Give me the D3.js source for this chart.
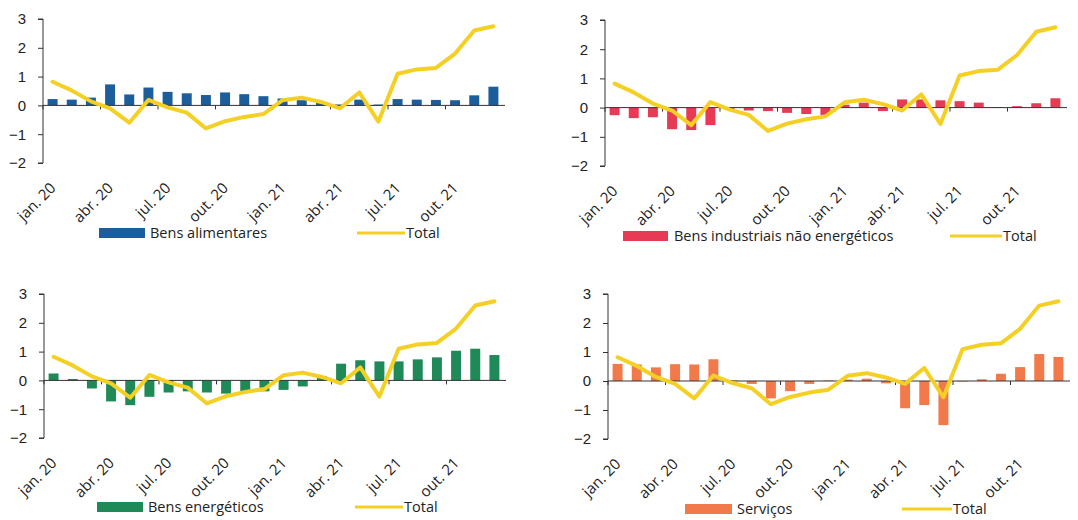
<!DOCTYPE html>
<html>
<head>
<meta charset="utf-8">
<script src="https://cdn.jsdelivr.net/npm/d3@7"></script>
<style>
  html, body { margin: 0; padding: 0; background: #fff; }
  svg { display: block; font-family: "Open Sans", "Noto Sans", sans-serif; }
</style>
</head>
<body>
<svg id="chart" width="1078" height="520"></svg>
<script>
// Monthly contributions (p.p.) to year-on-year HICP inflation, Jan 2020 – Dec 2021
const months = [
  "2020-01","2020-02","2020-03","2020-04","2020-05","2020-06",
  "2020-07","2020-08","2020-09","2020-10","2020-11","2020-12",
  "2021-01","2021-02","2021-03","2021-04","2021-05","2021-06",
  "2021-07","2021-08","2021-09","2021-10","2021-11","2021-12"
];
const tickMonths = ["2020-01","2020-04","2020-07","2020-10","2021-01","2021-04","2021-07","2021-10"];
const tickLabels = ["jan. 20","abr. 20","jul. 20","out. 20","jan. 21","abr. 21","jul. 21","out. 21"];
const yTicks = [-2, -1, 0, 1, 2, 3];

const total = [0.82, 0.52, 0.14, -0.1, -0.6, 0.19, -0.07, -0.25, -0.8, -0.55, -0.4, -0.3,
               0.18, 0.27, 0.12, -0.1, 0.45, -0.56, 1.1, 1.25, 1.3, 1.8, 2.6, 2.75];

const bensAlimentares = [0.22, 0.2, 0.27, 0.73, 0.38, 0.62, 0.47, 0.42, 0.36, 0.45, 0.39, 0.32,
                         0.24, 0.18, 0.12, 0.03, 0.2, 0.03, 0.22, 0.2, 0.19, 0.18, 0.35, 0.65];
const bensIndustriais = [-0.26, -0.36, -0.33, -0.74, -0.77, -0.6, -0.05, -0.1, -0.12, -0.18, -0.22, -0.25,
                         0.1, 0.17, -0.12, 0.28, 0.28, 0.25, 0.22, 0.17, 0.02, 0.05, 0.15, 0.32];
const bensEnergeticos = [0.24, 0.05, -0.28, -0.73, -0.86, -0.57, -0.42, -0.38, -0.42, -0.46, -0.37, -0.38,
                         -0.33, -0.21, 0.15, 0.58, 0.7, 0.66, 0.66, 0.73, 0.8, 1.03, 1.1, 0.88];
const servicos = [0.59, 0.57, 0.47, 0.58, 0.57, 0.75, 0.02, -0.1, -0.6, -0.35, -0.1, 0.02,
                  0.05, 0.08, -0.08, -0.94, -0.83, -1.52, -0.02, 0.06, 0.25, 0.48, 0.93, 0.83];

const LINE_COLOR = "#f5d024";
const TEXT_COLOR = "#222";

// Layout of the four small multiples
const panels = [
  { name: "Bens alimentares", values: bensAlimentares, color: "#1b5e9b",
    x0: 43, x1: 503, yTop: 19, yBot: 163,
    legY: 233, rectX: 99, rectW: 46, textX: 150, lineX0: 357, lineX1: 405 },
  { name: "Bens industriais não energéticos", values: bensIndustriais, color: "#e63a55",
    x0: 605, x1: 1065, yTop: 20, yBot: 166,
    legY: 236, rectX: 623, rectW: 45, textX: 674, lineX0: 950, lineX1: 1002 },
  { name: "Bens energéticos", values: bensEnergeticos, color: "#1f8a57",
    x0: 44, x1: 504, yTop: 294, yBot: 438,
    legY: 507, rectX: 97, rectW: 46, textX: 148, lineX0: 355, lineX1: 403 },
  { name: "Serviços", values: servicos, color: "#f27a4a",
    x0: 608, x1: 1068, yTop: 294, yBot: 439,
    legY: 509, rectX: 685, rectW: 47, textX: 737, lineX0: 902, lineX1: 952 }
];

const svg = d3.select("#chart");

panels.forEach(p => {
  const g = svg.append("g");

  const x = d3.scaleBand().domain(months).range([p.x0, p.x1]).paddingInner(0.48).paddingOuter(0.24);
  const xc = d => x(d) + x.bandwidth() / 2;
  const y = d3.scaleLinear().domain([-2, 3]).range([p.yBot, p.yTop]);

  // y axis
  const yAxis = d3.axisLeft(y).tickValues(yTicks).tickSize(5).tickPadding(12).tickFormat(d3.format("d"));
  const ya = g.append("g").attr("transform", `translate(${p.x0},0)`).call(yAxis);
  ya.select(".domain").attr("stroke", "#333").attr("d", `M-5,${y(3)}H0V${y(-2)}H-5`);
  ya.selectAll(".tick line").attr("stroke", "#333");
  ya.selectAll(".tick text").attr("fill", TEXT_COLOR).style("font-size", "15px");

  // bars
  g.append("g").selectAll("rect")
    .data(p.values)
    .join("rect")
    .attr("x", (d, i) => x(months[i]))
    .attr("width", x.bandwidth())
    .attr("y", d => y(Math.max(0, d)))
    .attr("height", d => Math.abs(y(d) - y(0)))
    .attr("fill", p.color);

  // zero line with quarterly ticks
  const step = x.step();
  g.append("line")
    .attr("x1", p.x0).attr("x2", p.x1 + 2)
    .attr("y1", y(0)).attr("y2", y(0))
    .attr("stroke", "#333").attr("stroke-width", 1);
  g.append("g").selectAll("line")
    .data(tickMonths)
    .join("line")
    .attr("x1", d => x(d) - (step - x.bandwidth()) / 2)
    .attr("x2", d => x(d) - (step - x.bandwidth()) / 2)
    .attr("y1", y(0)).attr("y2", y(0) + 4)
    .attr("stroke", "#333");

  // total line
  const line = d3.line().x((d, i) => xc(months[i])).y(d => y(d));
  g.append("path")
    .datum(total)
    .attr("d", line)
    .attr("fill", "none")
    .attr("stroke", LINE_COLOR)
    .attr("stroke-width", 4)
    .attr("stroke-linejoin", "round")
    .attr("stroke-linecap", "round");

  // rotated month labels
  g.append("g").selectAll("text")
    .data(tickMonths)
    .join("text")
    .attr("transform", (d, i) => `translate(${xc(d) + 4},${p.yBot + 26}) rotate(-45)`)
    .attr("text-anchor", "end")
    .attr("fill", TEXT_COLOR)
    .style("font-size", "15px")
    .text((d, i) => tickLabels[i]);

  // legend
  const lg = g.append("g");
  lg.append("rect")
    .attr("x", p.rectX).attr("y", p.legY - 5)
    .attr("width", p.rectW).attr("height", 10)
    .attr("fill", p.color);
  lg.append("text")
    .attr("x", p.textX).attr("y", p.legY + 5)
    .attr("fill", TEXT_COLOR).style("font-size", "14.5px")
    .text(p.name);
  lg.append("line")
    .attr("x1", p.lineX0).attr("x2", p.lineX1)
    .attr("y1", p.legY).attr("y2", p.legY)
    .attr("stroke", LINE_COLOR).attr("stroke-width", 3);
  lg.append("text")
    .attr("x", p.lineX1 + 1).attr("y", p.legY + 5)
    .attr("fill", TEXT_COLOR).style("font-size", "14.5px")
    .text("Total");
});
</script>
</body>
</html>
